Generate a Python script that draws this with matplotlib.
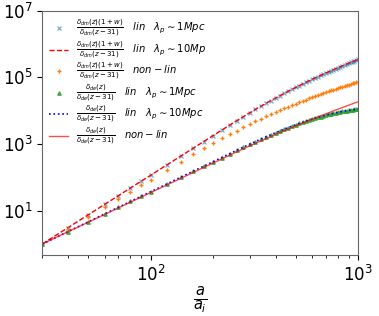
import numpy as np
from matplotlib import pyplot as plt

# a / a_i sampling
a_ratio = [30, 40, 50, 60, 70, 80, 90, 100, 120, 140, 160, 180, 200, 220, 240,
           260, 280, 300, 320, 340, 360, 380, 400, 420, 440, 460, 480, 500,
           520, 540, 560, 580, 600, 620, 640, 660, 680, 700, 720, 740, 760,
           780, 800, 820, 840, 860, 880, 900, 920, 940, 960, 980, 1000]

# dark matter, linear (both lambda_p curves sit on top of each other)
dm_lin = [1.0, 3.11, 7.52, 15.5, 28.4, 48.2, 76.7, 116, 239, 439, 744, 1186,
          1797, 2618, 3690, 5045, 6691, 8664, 10980, 13665, 16725, 20200,
          24060, 28370, 33110, 38280, 43930, 50000, 56590, 63600, 71100,
          79030, 87430, 96340, 105700, 115400, 125700, 136400, 147500,
          159100, 171100, 183600, 196500, 209800, 223400, 237500, 252000,
          266600, 281800, 297400, 313300, 329400, 346300]

# dark matter, non-linear
dm_nonlin = [1.0, 2.90, 6.62, 13.0, 23.0, 37.7, 58.3, 86.0, 169, 299, 489, 745,
             1074, 1481, 1972, 2548, 3211, 3966, 4808, 5746, 6768, 7883,
             9082, 10370, 11740, 13190, 14720, 16330, 18020, 19780, 21610,
             23490, 25440, 27470, 29550, 31670, 33860, 36090, 38360, 40690,
             43060, 45480, 47930, 50450, 52930, 55520, 58120, 60670, 63270,
             65950, 68610, 71300, 74050]

# dark energy, linear
de_lin = [1.0, 2.37, 4.63, 8.00, 12.7, 19.0, 27.0, 37.0, 64.0, 102, 152, 216,
          296, 394, 512, 650, 809, 990, 1191, 1414, 1656, 1917, 2196, 2491,
          2802, 3126, 3459, 3805, 4159, 4519, 4883, 5247, 5613, 5980, 6343,
          6700, 7055, 7403, 7742, 8070, 8389, 8700, 9000, 9286, 9556, 9817,
          10060, 10290, 10500, 10710, 10900, 11070, 11230]

# dark energy, non-linear
de_nonlin = [1.0, 2.34, 4.51, 7.73, 12.2, 18.1, 25.6, 34.9, 59.7, 94.1, 140,
             198, 269, 357, 462, 583, 722, 880, 1055, 1250, 1463, 1696, 1947,
             2220, 2511, 2822, 3155, 3506, 3880, 4272, 4684, 5114, 5566, 6038,
             6530, 7040, 7572, 8122, 8690, 9280, 9886, 10510, 11160, 11830,
             12500, 13210, 13930, 14650, 15400, 16180, 16960, 17770, 18600]

labels = [
    r'$\frac{\delta_{dm}(z)(1+w)}{\delta_{dm}(z-31)}$   $lin$   $\lambda_p\sim 1Mpc$',
    r'$\frac{\delta_{dm}(z)(1+w)}{\delta_{dm}(z-31)}$   $lin$   $\lambda_p\sim 10Mp$',
    r'$\frac{\delta_{dm}(z)(1+w)}{\delta_{dm}(z-31)}$   $non-lin$',
    r'$\frac{\delta_{de}(z)}{\delta_{de}(z-31)}$   $lin$   $\lambda_p\sim 1Mpc$',
    r'$\frac{\delta_{de}(z)}{\delta_{de}(z-31)}$   $lin$   $\lambda_p\sim 10Mpc$',
    r'$\frac{\delta_{de}(z)}{\delta_{de}(z-31)}$   $non-lin$',
]

fig = plt.figure(figsize=(3.79, 3.16), dpi=100)
ax = fig.add_subplot(111)
fig.subplots_adjust(left=0.111, right=0.945, top=0.966, bottom=0.193)

ax.plot(a_ratio, dm_lin, 'x', color='C0', ms=3.5, mew=0.9, alpha=0.6, label=labels[0])
ax.plot(a_ratio, dm_lin, '--', color='red', lw=1, label=labels[1])
ax.plot(a_ratio, dm_nonlin, '+', color='C1', ms=3, mew=1, label=labels[2])
ax.plot(a_ratio, de_lin, '^', color='C2', ms=2.5, alpha=0.8, label=labels[3])
ax.plot(a_ratio, de_lin, ':', color='blue', lw=1.2, label=labels[4])
ax.plot(a_ratio, de_nonlin, '-', color='red', lw=1, alpha=0.7, label=labels[5])

ax.set_xscale('log')
ax.set_yscale('log')
ax.set_xlim(30, 1000)
ax.set_ylim(0.47, 1e7)
ax.set_xlabel(r'$\frac{a}{a_i}$', fontsize=15, labelpad=0)
ax.tick_params(labelsize=12)
for s in ax.spines.values():
    s.set_color('0.4')

ax.legend(loc='upper left', frameon=False, fontsize=7.2, numpoints=1,
          handlelength=1.9, labelspacing=0.02, borderaxespad=0.3)

plt.savefig('out.png')
